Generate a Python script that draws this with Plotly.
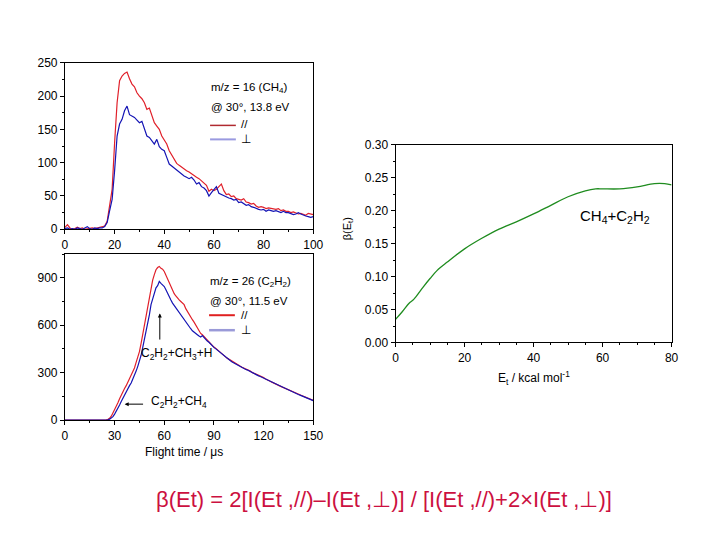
import plotly.graph_objects as go

# ---------------- data ----------------
# Top-left panel: m/z = 16 (CH4), flight time (us) vs signal
tof16 = list(range(0, 101))
par16 = [3, 7, 2, 0, 1, 3, 1, 2, 0, 1, 1, 2, 1, 2, 2, 3, 5, 12, 35, 60,
         130, 190, 223, 230, 234, 236, 226, 218, 214, 205, 200, 196, 190, 180, 182, 170, 160, 155, 150, 140,
         133, 128, 118, 112, 104, 99, 96, 93, 90, 88, 86, 83, 80, 78, 76, 73, 70, 66, 57, 60,
         58, 60, 64, 68, 58, 52, 53, 49, 50, 46, 45, 44, 46, 41, 40, 38, 39, 35, 33, 34,
         33, 31, 32, 31, 30, 30, 31, 28, 29, 27, 27, 25, 26, 24, 23, 24, 22, 21, 24, 23, 22]
perp16 = [1, 2, 0, 1, 0, 2, 1, 0, 2, 4, 1, 0, 2, 1, 2, 2, 4, 10, 28, 45,
          88, 140, 158, 165, 178, 185, 172, 170, 168, 164, 160, 162, 152, 140, 138, 132, 128, 135, 124, 120,
          118, 108, 98, 95, 92, 88, 86, 82, 80, 78, 76, 78, 74, 68, 70, 64, 62, 58, 50, 55,
          60, 64, 54, 52, 50, 48, 47, 46, 44, 45, 40, 41, 38, 36, 37, 34, 33, 31, 30, 29,
          30, 27, 29, 28, 27, 28, 26, 25, 27, 25, 25, 24, 22, 23, 25, 23, 21, 20, 19, 18, 19]

# Bottom-left panel: m/z = 26 (C2H2)
tof26 = list(range(0, 151))
par26 = [0] * 25 + [
    2, 5, 12, 25, 45, 63, 85, 110, 135, 160, 180, 200, 218, 240, 258,
    275, 300, 330, 365, 400, 433, 485, 540, 600, 655, 710, 775, 837, 885, 920,
    951, 965, 972, 960, 955, 940, 915, 890, 870, 845, 820, 800, 785, 770, 760,
    750, 740, 730, 705, 685, 670, 655, 635, 620, 600, 585, 570, 548, 540, 528,
    515, 505, 495, 485, 472, 462, 455, 445, 435, 425, 418, 408, 400, 392, 385,
    378, 372, 364, 356, 350, 345, 340, 334, 330, 325, 320, 315, 310, 302, 298,
    292, 288, 282, 278, 274, 270, 262, 258, 252, 246, 240, 236, 230, 225, 220,
    215, 210, 205, 200, 196, 190, 186, 182, 176, 172, 168, 163, 160, 156, 150,
    146, 142, 138, 134, 128, 125]
perp26 = [0] * 26 + [
    2, 6, 12, 22, 38, 55, 75, 95, 118, 140, 158, 175, 200, 218,
    235, 258, 285, 310, 340, 370, 410, 460, 510, 560, 602, 665, 730, 770, 800,
    837, 850, 877, 865, 855, 845, 825, 800, 780, 760, 740, 725, 705, 690, 675,
    660, 645, 632, 615, 600, 590, 578, 565, 555, 546, 540, 532, 525, 535, 522,
    512, 500, 492, 480, 470, 460, 452, 443, 432, 424, 414, 406, 398, 390, 383,
    375, 368, 362, 355, 348, 342, 338, 332, 326, 322, 318, 312, 306, 300, 296,
    290, 285, 280, 276, 271, 266, 262, 255, 250, 245, 238, 233, 228, 224, 218,
    212, 208, 204, 198, 193, 188, 185, 180, 174, 170, 166, 162, 158, 153, 150,
    145, 141, 136, 132, 127, 123]

# Right panel: beta(Et) vs Et (kcal/mol)
et = [0, 2, 4, 5, 6, 8, 10, 12, 15, 20, 25, 30, 35, 40, 45, 50, 55, 58, 60, 65, 70, 75, 78, 80]
beta = [0.035, 0.047, 0.060, 0.064, 0.070, 0.084, 0.097, 0.109, 0.122, 0.142, 0.158, 0.172,
        0.183, 0.195, 0.208, 0.221, 0.230, 0.233, 0.233, 0.233, 0.236, 0.241, 0.241, 0.239]

# ---------------- styling helpers ----------------
W, H = 720, 540
FONT = "Liberation Sans, Arial, Helvetica, sans-serif"
RED = "#e0202a"
BLUE = "#1414b4"
GREEN = "#1f8c1f"
FORMULA = "#cc1040"

# empirical correction of the page offset / scale seen in the rendered screenshot
X0, XS = 7.3, 0.99
Y0, YS = 14.5, 0.975


def fx(px):
    return ((px - X0) / XS) / W


def fy(py):
    return 1 - ((py - Y0) / YS) / H


def axis_style(rng, dtick, minor_dtick, domain, anchor):
    return dict(range=rng, dtick=dtick, domain=domain, anchor=anchor,
                showline=True, linecolor="black", linewidth=1, mirror=True,
                ticks="outside", ticklen=4, tickcolor="black", tickwidth=1,
                minor=dict(ticks="outside", ticklen=2, dtick=minor_dtick, tickcolor="black"),
                showgrid=False, zeroline=False,
                tickfont=dict(family=FONT, size=12, color="black"))


fig = go.Figure()

fig.add_trace(go.Scatter(x=tof16, y=par16, mode="lines", line=dict(color=RED, width=1.2),
                         xaxis="x", yaxis="y", showlegend=False))
fig.add_trace(go.Scatter(x=tof16, y=perp16, mode="lines", line=dict(color=BLUE, width=1.2),
                         xaxis="x", yaxis="y", showlegend=False))
fig.add_trace(go.Scatter(x=tof26, y=par26, mode="lines", line=dict(color=RED, width=1.2),
                         xaxis="x2", yaxis="y2", showlegend=False))
fig.add_trace(go.Scatter(x=tof26, y=perp26, mode="lines", line=dict(color=BLUE, width=1.2),
                         xaxis="x2", yaxis="y2", showlegend=False))
fig.add_trace(go.Scatter(x=et, y=beta, mode="lines", line=dict(color=GREEN, width=1.3, shape="spline"),
                         xaxis="x3", yaxis="y3", showlegend=False))

left_dom = [fx(61.7), fx(312)]
fig.update_layout(
    xaxis=axis_style([0, 100], 20, 10, left_dom, "y"),
    yaxis=axis_style([0, 250], 50, 25, [fy(229), fy(62.3)], "x"),
    xaxis2=axis_style([0, 150], 30, 15, left_dom, "y2"),
    yaxis2=axis_style([0, 1052], 300, 150, [fy(420), fy(253.5)], "x2"),
    xaxis3=axis_style([0, 80], 20, 5, [fx(395), fx(673.3)], "y3"),
    yaxis3=axis_style([0, 0.30], 0.05, 0.025, [fy(342.3), fy(144.3)], "x3"),
)
fig.update_layout(yaxis3=dict(tickformat=".2f"))

ann = []


def text(px, py, s, size=11, xanchor="left", color="black", angle=0):
    ann.append(dict(x=fx(px), y=fy(py), xref="paper", yref="paper", text=s, showarrow=False,
                    xanchor=xanchor, yanchor="middle", textangle=angle,
                    font=dict(family=FONT, size=size, color=color)))


# legend blocks
text(207, 88, "m/z = 16 (CH<sub>4</sub>)", size=11.5)
text(207, 107, "@ 30°, 13.8 eV", size=11.5)
text(237, 124, "//", size=11.5)
text(237, 139, "⊥", size=11.5)
text(206, 282, "m/z = 26 (C<sub>2</sub>H<sub>2</sub>)", size=11.5)
text(206, 301, "@ 30°, 11.5 eV", size=11.5)
text(237, 315, "//", size=11.5)
text(237, 330, "⊥", size=11.5)

shapes = [
    dict(type="line", xref="paper", yref="paper", x0=fx(208), x1=fx(234), y0=fy(125), y1=fy(125),
         line=dict(color="#b02a30", width=1.5)),
    dict(type="line", xref="paper", yref="paper", x0=fx(208), x1=fx(234), y0=fy(139), y1=fy(139),
         line=dict(color="#9a9ae0", width=2)),
    dict(type="line", xref="paper", yref="paper", x0=fx(207), x1=fx(233), y0=fy(315), y1=fy(315),
         line=dict(color="#e02020", width=2)),
    dict(type="line", xref="paper", yref="paper", x0=fx(207), x1=fx(233), y0=fy(330), y1=fy(330),
         line=dict(color="#9a9ad8", width=2.5)),
]

# axis titles
text(182, 452, "Flight time / μs", size=12, xanchor="center")
text(535, 378, "E<sub>t</sub> / kcal mol<sup>-1</sup>", size=12, xanchor="center")
text(347, 228, "β(E<sub>t</sub>)", size=11, xanchor="center", angle=-90)

# in-plot labels
text(579, 216, "CH<sub>4</sub>+C<sub>2</sub>H<sub>2</sub>", size=15)
ann.append(dict(x=57.3, y=675, ax=57.3, ay=500, xref="x2", yref="y2", axref="x2", ayref="y2",
                showarrow=True, arrowhead=2, arrowsize=0.8, arrowwidth=1, arrowcolor="black", text=""))
ann.append(dict(x=44.5, y=420, xref="x2", yref="y2", text="C<sub>2</sub>H<sub>2</sub>+CH<sub>3</sub>+H",
                showarrow=False, xanchor="left", font=dict(family=FONT, size=12, color="black")))
ann.append(dict(x=36.1, y=101, ax=48.1, ay=101, xref="x2", yref="y2", axref="x2", ayref="y2",
                showarrow=True, arrowhead=2, arrowsize=0.8, arrowwidth=1, arrowcolor="black", text=""))
ann.append(dict(x=50.5, y=112, xref="x2", yref="y2", text="C<sub>2</sub>H<sub>2</sub>+CH<sub>4</sub>",
                showarrow=False, xanchor="left", font=dict(family=FONT, size=12, color="black")))

# formula
text(383, 499, "β(Et) = 2[I(Et ,//)–I(Et ,⊥)] / [I(Et ,//)+2×I(Et ,⊥)]", size=22,
     xanchor="center", color=FORMULA)

fig.update_layout(annotations=ann, shapes=shapes, width=W, height=H,
                  margin=dict(l=0, r=0, t=0, b=0), paper_bgcolor="white", plot_bgcolor="white",
                  showlegend=False)

fig.write_html("out.html", config={"displayModeBar": False})
